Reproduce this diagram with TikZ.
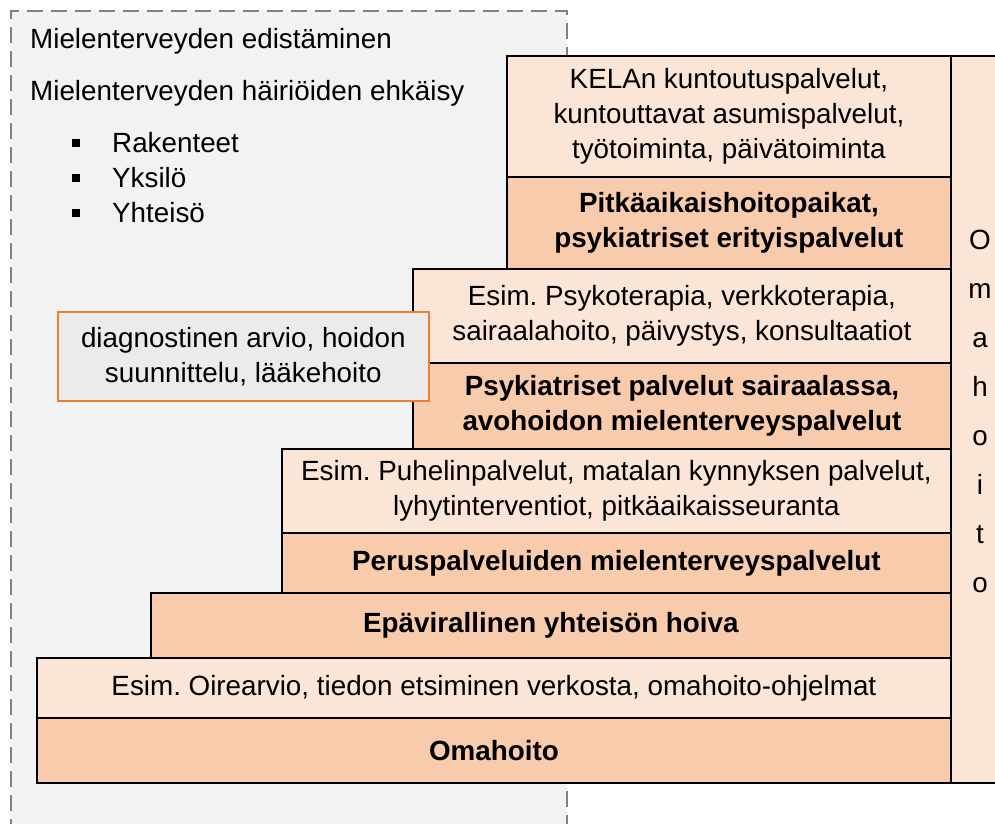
\documentclass[tikz,border=0pt]{standalone}
\usepackage{fontspec}
\setmainfont{Liberation Sans}
\frenchspacing
\definecolor{lite}{HTML}{FBE5D6}
\definecolor{darkp}{HTML}{F8CBAD}
\definecolor{grayfill}{HTML}{F2F2F2}
\definecolor{grayline}{HTML}{808080}
\definecolor{orangeline}{HTML}{ED7D31}
\definecolor{obox}{HTML}{EBEBEB}
\newcommand{\fs}{\fontsize{27.8}{35}\selectfont\frenchspacing}
\begin{document}
\begin{tikzpicture}[x=1pt,y=-1pt,
  stair/.style={draw=black, line width=1.8pt, anchor=north west, inner sep=0pt, align=center, font=\fs},
  litebox/.style={stair, fill=lite},
  darkbox/.style={stair, fill=darkp, font=\fs\bfseries},
  plain/.style={anchor=base west, inner sep=0pt, font=\fs},
  bul/.style={fill=black, minimum size=8pt, inner sep=0pt},
]
\useasboundingbox (0,0) rectangle (995,823);
\clip (0,0) rectangle (995,823);
\node[draw=grayline, fill=grayfill, line width=1.8pt, dash pattern=on 16pt off 8pt,
  anchor=north west, minimum width=556pt, minimum height=840pt, inner sep=0pt] (prev) at (10,10) {};

\node[plain] (t1) at (30,48) {Mielenterveyden edistäminen};
\node[plain] (t2) at (30,100) {Mielenterveyden häiriöiden ehkäisy};
\node[bul] (b1) at (76,143) {};
\node[plain] (r1) at (112,152) {Rakenteet};
\node[bul] (b2) at (76,178) {};
\node[plain] (r2) at (112,187) {Yksilö};
\node[bul] (b3) at (76,213) {};
\node[plain] (r3) at (112,222) {Yhteisö};

\node[litebox, minimum width=444pt, minimum height=121pt] (kela) at (506,55) {KELAn kuntoutuspalvelut,\\kuntouttavat asumispalvelut,\\työtoiminta, päivätoiminta};
\node[darkbox, minimum width=444pt, minimum height=92pt] (pitka) at (506,176) {Pitkäaikaishoitopaikat,\\psykiatriset erityispalvelut};
\node[litebox, minimum width=538pt, minimum height=94pt] (psyko) at (412,268) {Esim. Psykoterapia, verkkoterapia,\\sairaalahoito, päivystys, konsultaatiot};
\node[darkbox, minimum width=538pt, minimum height=86pt] (sair) at (412,362) {Psykiatriset palvelut sairaalassa,\\avohoidon mielenterveyspalvelut};
\node[litebox, minimum width=669pt, minimum height=84pt] (puhe) at (281,448) {Esim. Puhelinpalvelut, matalan kynnyksen palvelut,\\lyhytinterventiot, pitkäaikaisseuranta};
\node[darkbox, minimum width=669pt, minimum height=60pt] (perus) at (281,532) {Peruspalveluiden mielenterveyspalvelut};
\node[darkbox, minimum width=800pt, minimum height=65pt] (epa) at (150,592) {Epävirallinen yhteisön hoiva};
\node[litebox, minimum width=914pt, minimum height=60pt] (oire) at (36,657) {Esim. Oirearvio, tiedon etsiminen verkosta, omahoito-ohjelmat};
\node[darkbox, minimum width=914pt, minimum height=65pt] (oma) at (36,717) {Omahoito};

\node[litebox, minimum width=62pt, minimum height=727pt] (omabox) at (950,55) {};
\node[inner sep=0pt, align=center, font=\fontsize{27.8}{49}\selectfont] (omav) at (980,411) {O\\m\\a\\h\\o\\i\\t\\o};

\node[draw=orangeline, fill=obox, line width=1.6pt, anchor=north west, inner sep=0pt,
  minimum width=371pt, minimum height=89pt, align=center, font=\fs] (diag) at (57,311)
  {diagnostinen arvio, hoidon\\suunnittelu, lääkehoito};
\end{tikzpicture}
\end{document}
